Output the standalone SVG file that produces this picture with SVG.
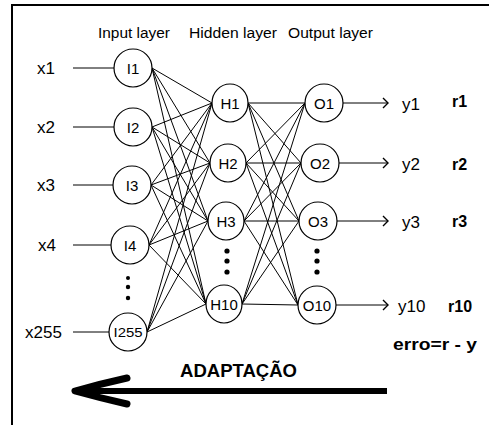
<svg xmlns="http://www.w3.org/2000/svg" width="489" height="425" viewBox="0 0 489 425">
<style>
  text { font-family: "Liberation Sans", Arial, sans-serif; fill: #000; }
  .node { fill: #fff; stroke: #000; stroke-width: 1.2; }
  .nt { font-size: 15px; text-anchor: middle; }
  .lbl { font-size: 17px; }
  .ttl { font-size: 14px; }
  .b { font-weight: bold; }
  .c { stroke: #000; stroke-width: 1; fill: none; }
  .dot { fill: #000; }
</style>
<defs>
  <marker id="arr" markerWidth="10" markerHeight="12" refX="9" refY="6" orient="auto" markerUnits="userSpaceOnUse">
    <polyline points="4,1 9,6 4,11" fill="none" stroke="#000" stroke-width="1.4"/>
  </marker>
</defs>
<rect width="489" height="425" fill="#fff"/>
<g id="frame">
  <line x1="12" y1="5" x2="489" y2="5" stroke="#000" stroke-width="2"/>
  <line x1="12" y1="4" x2="12" y2="425" stroke="#000" stroke-width="2"/>
</g>
<g id="titles">
  <text class="ttl" x="98" y="38" textLength="72" lengthAdjust="spacingAndGlyphs">Input layer</text>
  <text class="ttl" x="189" y="38" textLength="88" lengthAdjust="spacingAndGlyphs">Hidden layer</text>
  <text class="ttl" x="288" y="38" textLength="85" lengthAdjust="spacingAndGlyphs">Output layer</text>
</g>
<g id="connectors">
  <!-- inputs to input nodes -->
  <line class="c" x1="73" y1="68" x2="114" y2="68"/>
  <line class="c" x1="73" y1="127" x2="114" y2="127"/>
  <line class="c" x1="73" y1="185" x2="113" y2="185"/>
  <line class="c" x1="73" y1="245" x2="111" y2="245"/>
  <line class="c" x1="73" y1="332" x2="109" y2="332"/>
  <!-- input to hidden -->
  <g>
    <line class="c" x1="152" y1="68" x2="212" y2="103"/>
    <line class="c" x1="152" y1="68" x2="210" y2="163"/>
    <line class="c" x1="152" y1="68" x2="208" y2="221"/>
    <line class="c" x1="152" y1="68" x2="206" y2="304"/>
    <line class="c" x1="152" y1="127" x2="212" y2="103"/>
    <line class="c" x1="152" y1="127" x2="210" y2="163"/>
    <line class="c" x1="152" y1="127" x2="208" y2="221"/>
    <line class="c" x1="152" y1="127" x2="206" y2="304"/>
    <line class="c" x1="151" y1="185" x2="212" y2="103"/>
    <line class="c" x1="151" y1="185" x2="210" y2="163"/>
    <line class="c" x1="151" y1="185" x2="208" y2="221"/>
    <line class="c" x1="151" y1="185" x2="206" y2="304"/>
    <line class="c" x1="149" y1="245" x2="212" y2="103"/>
    <line class="c" x1="149" y1="245" x2="210" y2="163"/>
    <line class="c" x1="149" y1="245" x2="208" y2="221"/>
    <line class="c" x1="149" y1="245" x2="206" y2="304"/>
    <line class="c" x1="147" y1="332" x2="212" y2="103"/>
    <line class="c" x1="147" y1="332" x2="210" y2="163"/>
    <line class="c" x1="147" y1="332" x2="208" y2="221"/>
    <line class="c" x1="147" y1="332" x2="206" y2="304"/>
  </g>
  <!-- hidden to output -->
  <g>
    <line class="c" x1="248" y1="103" x2="305" y2="103"/>
    <line class="c" x1="248" y1="103" x2="301" y2="163"/>
    <line class="c" x1="248" y1="103" x2="299" y2="221"/>
    <line class="c" x1="248" y1="103" x2="298" y2="305"/>
    <line class="c" x1="246" y1="163" x2="305" y2="103"/>
    <line class="c" x1="246" y1="163" x2="301" y2="163"/>
    <line class="c" x1="246" y1="163" x2="299" y2="221"/>
    <line class="c" x1="246" y1="163" x2="298" y2="305"/>
    <line class="c" x1="244" y1="221" x2="305" y2="103"/>
    <line class="c" x1="244" y1="221" x2="301" y2="163"/>
    <line class="c" x1="244" y1="221" x2="299" y2="221"/>
    <line class="c" x1="244" y1="221" x2="298" y2="305"/>
    <line class="c" x1="242" y1="304" x2="305" y2="103"/>
    <line class="c" x1="242" y1="304" x2="301" y2="163"/>
    <line class="c" x1="242" y1="304" x2="299" y2="221"/>
    <line class="c" x1="242" y1="304" x2="298" y2="305"/>
  </g>
  <!-- outputs -->
  <line class="c" x1="343" y1="103" x2="388" y2="103" marker-end="url(#arr)"/>
  <line class="c" x1="339" y1="163" x2="388" y2="163" marker-end="url(#arr)"/>
  <line class="c" x1="337" y1="221" x2="388" y2="221" marker-end="url(#arr)"/>
  <line class="c" x1="336" y1="305" x2="388" y2="305" marker-end="url(#arr)"/>
</g>
<g id="input-labels">
  <text class="lbl" x="37" y="74">x1</text>
  <text class="lbl" x="37" y="133">x2</text>
  <text class="lbl" x="37" y="191">x3</text>
  <text class="lbl" x="38" y="251">x4</text>
  <text class="lbl" x="25" y="338">x255</text>
</g>
<g id="node-I1"><circle class="node" cx="133" cy="68" r="19"/><text class="nt" x="133" y="73.5">I1</text></g>
<g id="node-I2"><circle class="node" cx="133" cy="127" r="19"/><text class="nt" x="133" y="132.5">I2</text></g>
<g id="node-I3"><circle class="node" cx="132" cy="185" r="19"/><text class="nt" x="132" y="190.5">I3</text></g>
<g id="node-I4"><circle class="node" cx="130" cy="245" r="19"/><text class="nt" x="130" y="250.5">I4</text></g>
<g id="node-I255"><circle class="node" cx="128" cy="332" r="19"/><text class="nt" x="128" y="337" style="font-size:12px" textLength="29" lengthAdjust="spacingAndGlyphs">I255</text></g>
<g id="node-H1"><ellipse class="node" cx="230" cy="103" rx="18" ry="19"/><text class="nt" x="230" y="108.5">H1</text></g>
<g id="node-H2"><ellipse class="node" cx="228" cy="163" rx="18" ry="19"/><text class="nt" x="228" y="168.5">H2</text></g>
<g id="node-H3"><ellipse class="node" cx="226" cy="221" rx="18" ry="19"/><text class="nt" x="226" y="226.5">H3</text></g>
<g id="node-H10"><ellipse class="node" cx="224" cy="304" rx="18" ry="19"/><text class="nt" x="224" y="309.5">H10</text></g>
<g id="node-O1"><circle class="node" cx="324" cy="103" r="19"/><text class="nt" x="324" y="108.5">O1</text></g>
<g id="node-O2"><circle class="node" cx="320" cy="163" r="19"/><text class="nt" x="320" y="168.5">O2</text></g>
<g id="node-O3"><circle class="node" cx="318" cy="221" r="19"/><text class="nt" x="318" y="226.5">O3</text></g>
<g id="node-O10"><circle class="node" cx="317" cy="305" r="19"/><text class="nt" x="317" y="310.5">O10</text></g>
<g id="ellipsis-dots">
  <circle class="dot" cx="128" cy="278" r="2"/>
  <circle class="dot" cx="128" cy="287" r="2.2"/>
  <circle class="dot" cx="128" cy="298" r="2.2"/>
  <circle class="dot" cx="227" cy="251" r="2.6"/>
  <circle class="dot" cx="227" cy="261" r="2.6"/>
  <circle class="dot" cx="227" cy="272" r="2.6"/>
  <circle class="dot" cx="317" cy="251" r="2.6"/>
  <circle class="dot" cx="317" cy="261" r="2.6"/>
  <circle class="dot" cx="317" cy="272" r="2.6"/>
</g>
<g id="output-labels">
  <text class="lbl" x="402" y="110">y1</text>
  <text class="lbl" x="402" y="170">y2</text>
  <text class="lbl" x="402" y="228">y3</text>
  <text class="lbl" x="398" y="312">y10</text>
  <text class="lbl b" x="452" y="107" style="font-size:16px">r1</text>
  <text class="lbl b" x="452" y="170" style="font-size:16px">r2</text>
  <text class="lbl b" x="452" y="227" style="font-size:16px">r3</text>
  <text class="lbl b" x="448" y="312" style="font-size:16px">r10</text>
  <text class="b" x="393" y="350" style="font-size:17px" textLength="84" lengthAdjust="spacingAndGlyphs">erro=r - y</text>
</g>
<g id="adaptacao">
  <text class="b" x="180" y="377" style="font-size:18px" textLength="117" lengthAdjust="spacingAndGlyphs">ADAPTAÇÃO</text>
  <rect x="76" y="388" width="311" height="6" fill="#000"/>
  <path d="M127,378 Q100,384 75,391 Q100,398 127,404" fill="none" stroke="#000" stroke-width="7" stroke-linecap="round" stroke-linejoin="round"/>
</g>
</svg>
